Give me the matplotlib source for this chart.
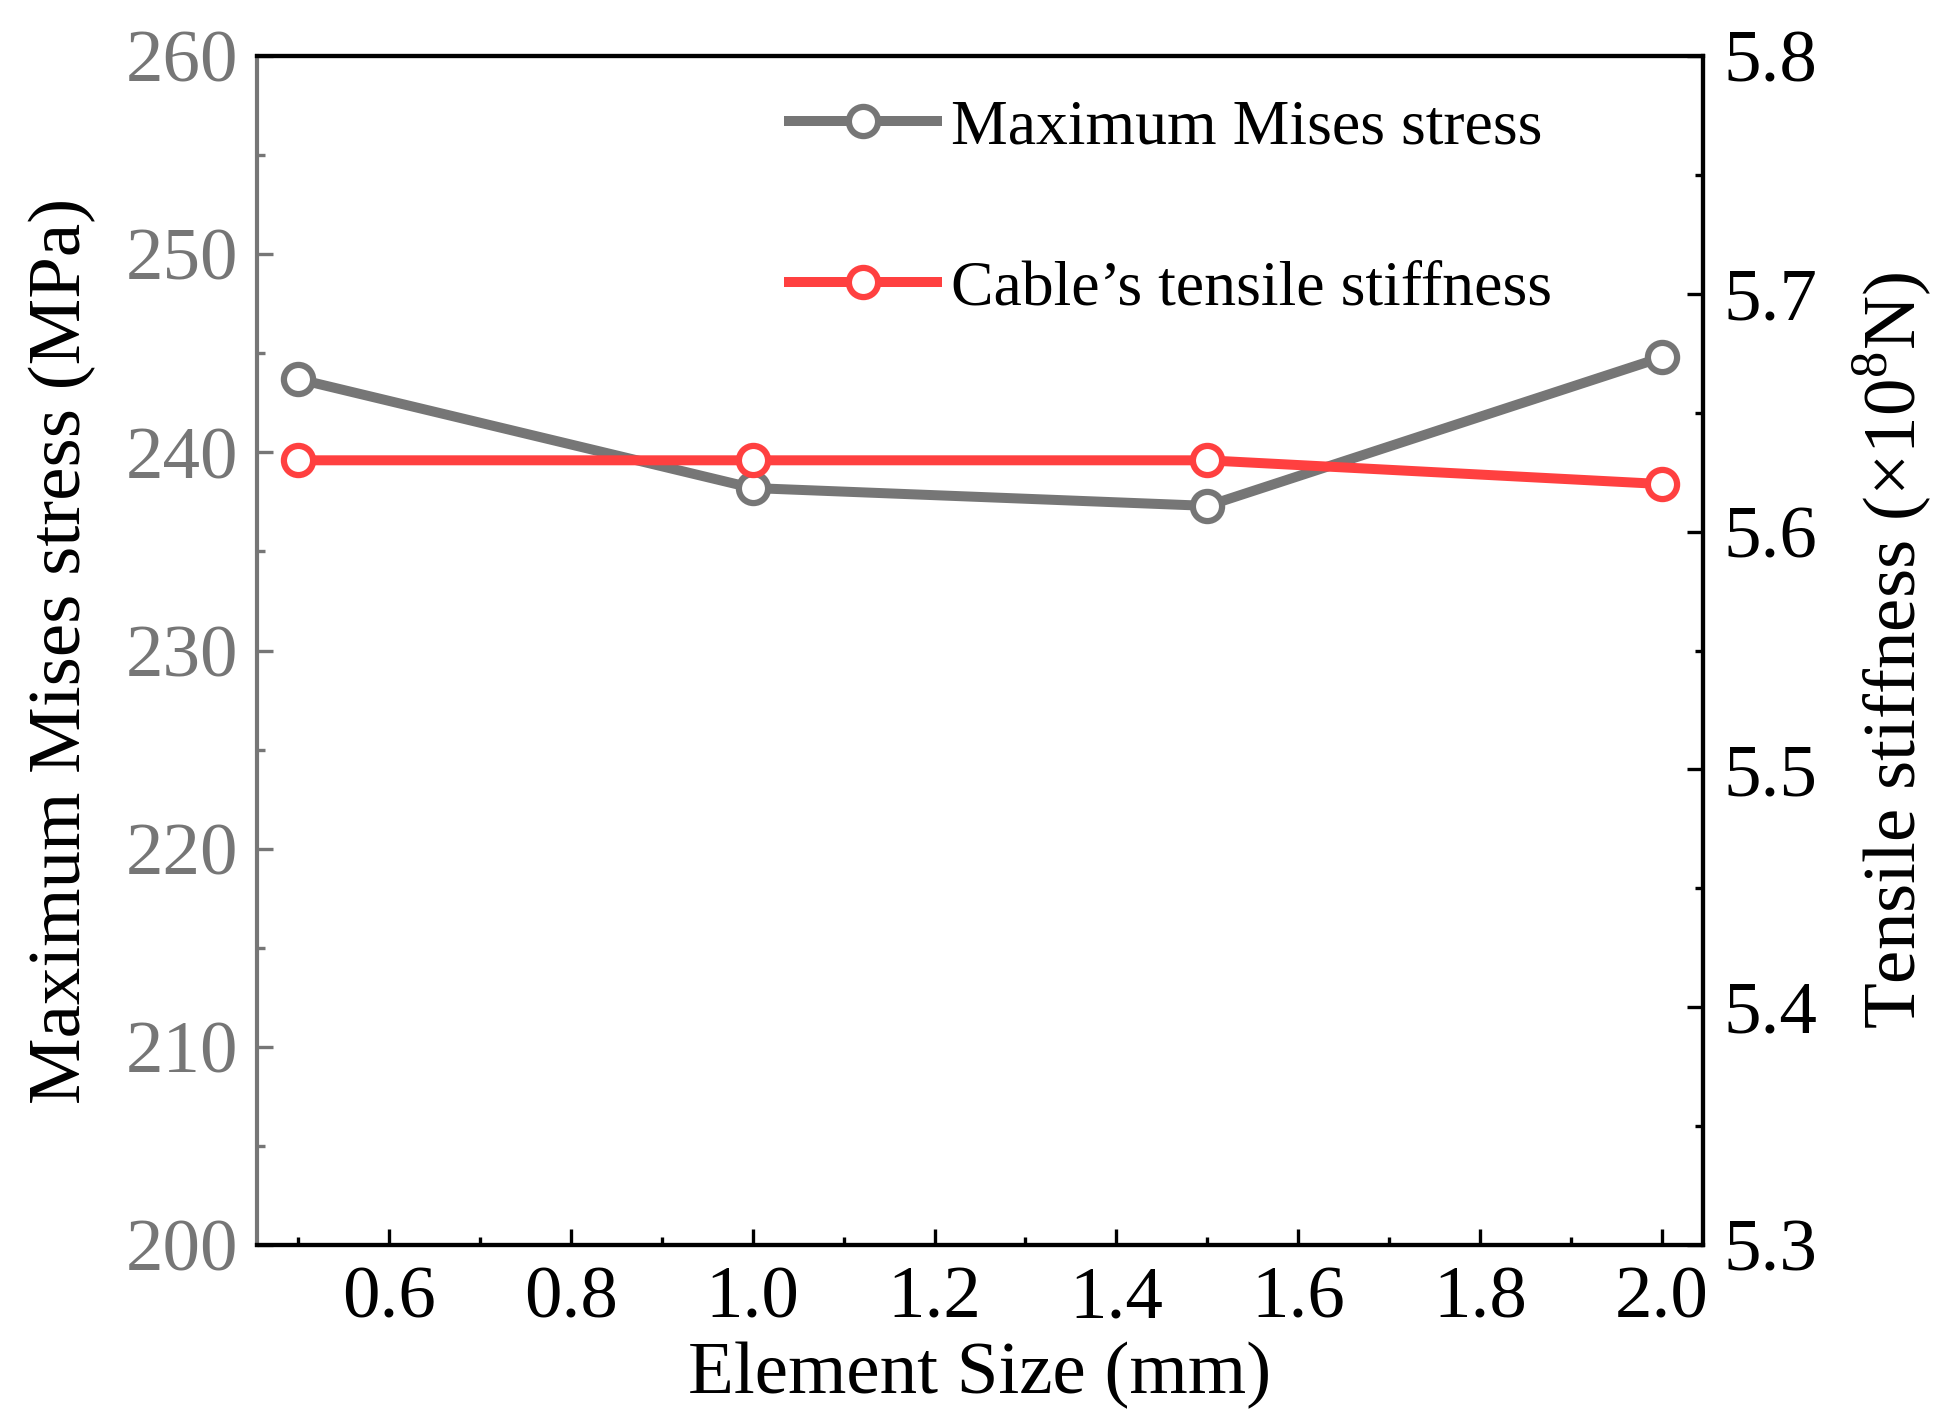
import matplotlib
matplotlib.use("Agg")
import matplotlib.pyplot as plt
from matplotlib.ticker import MultipleLocator

plt.rcParams['font.family'] = ['Liberation Serif', 'DejaVu Serif']
plt.rcParams['mathtext.fontset'] = 'custom'
plt.rcParams['mathtext.rm'] = 'Liberation Serif'

element_size = [0.5, 1.0, 1.5, 2.0]
mises_stress = [243.7, 238.2, 237.3, 244.8]
tensile_stiffness = [5.630, 5.630, 5.630, 5.620]

GRAY = '#767676'
RED = '#FF4040'
FS = 18
LFS = 15.3

fig = plt.figure(figsize=(6.51, 4.73), dpi=300)
ax = fig.add_axes([0.1316, 0.1226, 0.872 - 0.1316, 0.9605 - 0.1226])
ax2 = ax.twinx()

l1, = ax.plot(element_size, mises_stress, color=GRAY, lw=2.4, marker='o', ms=7.0,
              mfc='white', mec=GRAY, mew=1.5, label='Maximum Mises stress', zorder=3)
l2, = ax2.plot(element_size, tensile_stiffness, color=RED, lw=2.4, marker='o', ms=7.0,
               mfc='white', mec=RED, mew=1.5, label='Cable\u2019s tensile stiffness', zorder=3)

ax.set_xlim(0.455, 2.045)
ax.set_ylim(200, 260)
ax2.set_ylim(5.3, 5.8)

ax.xaxis.set_major_locator(MultipleLocator(0.2))
ax.xaxis.set_minor_locator(MultipleLocator(0.1))
ax.yaxis.set_major_locator(MultipleLocator(10))
ax.yaxis.set_minor_locator(MultipleLocator(5))
ax2.yaxis.set_major_locator(MultipleLocator(0.1))
ax2.yaxis.set_minor_locator(MultipleLocator(0.05))
ax.xaxis.set_major_formatter(plt.FormatStrFormatter('%.1f'))
ax2.yaxis.set_major_formatter(plt.FormatStrFormatter('%.1f'))

for a in (ax, ax2):
    for s in a.spines.values():
        s.set_linewidth(1.0)
ax.spines['left'].set_color(GRAY)
ax2.spines['left'].set_visible(False)

ax.tick_params(axis='x', which='both', direction='in', top=False, labelsize=FS, pad=5,
               width=0.8, colors='black')
ax.tick_params(axis='x', which='major', length=3.8)
ax.tick_params(axis='x', which='minor', length=2)
ax.tick_params(axis='y', which='both', direction='in', labelsize=FS, pad=4.5,
               width=0.8, colors=GRAY)
ax.tick_params(axis='y', which='major', length=3.8)
ax.tick_params(axis='y', which='minor', length=2)
ax2.tick_params(axis='y', which='both', direction='in', labelsize=FS, pad=5,
                width=0.8, colors='black')
ax2.tick_params(axis='y', which='major', length=3.8)
ax2.tick_params(axis='y', which='minor', length=2)

ax.set_xlabel('Element Size (mm)', fontsize=FS, labelpad=2)
ax.set_ylabel('Maximum Mises stress (MPa)', fontsize=FS, labelpad=7)
ax2.set_ylabel('Tensile stiffness ($\\times$10$^{8}$N)', fontsize=FS, labelpad=8)

leg = ax.legend(handles=[l1, l2], loc='upper left', bbox_to_anchor=(0.368, 0.964),
                frameon=False, fontsize=LFS, labelspacing=1.6, handlelength=2.32,
                handletextpad=0.22, borderpad=0, borderaxespad=0)

fig.savefig('out.png', dpi=300)
